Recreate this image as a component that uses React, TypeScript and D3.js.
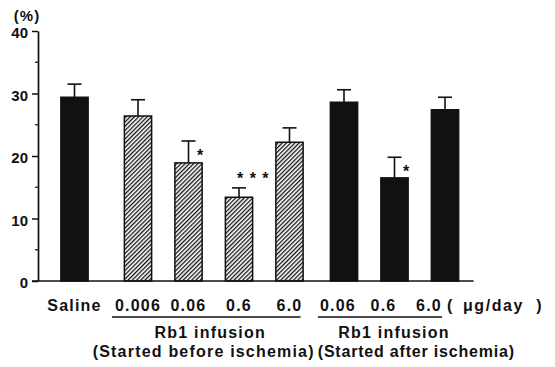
import React, { useEffect, useRef } from "react";
import * as d3 from "d3";

// values (% , mean and error)
const doses = ["Saline", "0.006", "0.06", "0.6", "6.0", "0.06", "0.6", "6.0"];
const groups = [0, 1, 1, 1, 1, 2, 2, 2];
const means = [29.4, 26.4, 18.9, 13.4, 22.2, 28.6, 16.5, 27.4];
const sems = [2.1, 2.6, 3.5, 1.5, 2.3, 2.0, 3.3, 2.0];
const marks = ["", "", "*", "***", "", "", "*", ""];
const yTicks = [0, 10, 20, 30, 40];
const yMinor = [5, 15, 25, 35];
const groupTitles = ["Rb1 infusion", "Rb1 infusion"];
const groupNotes = ["(Started before ischemia)", "(Started after ischemia)"];
const unitParts = ["(", "\u03bcg/day", ")"];

const W = 555;
const H = 367;
const FONT = "'Liberation Sans', Arial, sans-serif";
const groupShift = [0, 13, 17];

const drawChart = (node: SVGSVGElement) => {
  const svg = d3.select(node);
  svg.selectAll("*").remove();

  const y = d3.scaleLinear().domain([0, 40]).range([281, 31]);
  const x = d3.scaleBand<number>()
    .domain(d3.range(doses.length))
    .range([49.25, 453.25])
    .paddingInner(0.46)
    .paddingOuter(0.23);
  const bw = x.bandwidth();
  const left = (i: number) => (x(i) as number) + groupShift[groups[i]];
  const cx = (i: number) => left(i) + bw / 2;
  const axisX = 38;

  const defs = svg.append("defs");
  const pat = defs.append("pattern")
    .attr("id", "hatch")
    .attr("patternUnits", "userSpaceOnUse")
    .attr("width", 3)
    .attr("height", 3)
    .attr("patternTransform", "rotate(45)");
  pat.append("rect").attr("width", 3).attr("height", 3).attr("fill", "#fff");
  pat.append("line")
    .attr("x1", 0.6).attr("x2", 0.6).attr("y1", 0).attr("y2", 3)
    .attr("stroke", "#111").attr("stroke-width", 1.4);

  // y axis
  const yAxis = svg.append("g")
    .attr("transform", `translate(${axisX},0)`)
    .call(d3.axisLeft(y).tickValues(yTicks).tickSize(6).tickSizeOuter(0).tickPadding(4));
  yAxis.select(".domain").attr("stroke", "#111").attr("stroke-width", 1.7);
  yAxis.selectAll(".tick line").attr("stroke", "#111").attr("stroke-width", 1.5);
  yAxis.selectAll(".tick text")
    .attr("font-family", FONT)
    .attr("font-size", 15)
    .attr("font-weight", "bold")
    .attr("fill", "#111")
    .attr("dy", "0.45em");

  svg.append("g")
    .selectAll("line")
    .data(yMinor)
    .join("line")
      .attr("x1", axisX - 3)
      .attr("x2", axisX)
      .attr("y1", d => y(d))
      .attr("y2", d => y(d))
      .attr("stroke", "#111")
      .attr("stroke-width", 1.2);

  svg.append("text")
    .attr("x", 27)
    .attr("y", 21)
    .attr("text-anchor", "middle")
    .attr("font-family", FONT)
    .attr("font-size", 15)
    .attr("font-weight", "bold")
    .attr("letter-spacing", 1)
    .attr("fill", "#111")
    .text("(%)");

  // bars
  const idx = d3.range(doses.length);
  svg.append("g")
    .selectAll("rect")
    .data(idx)
    .join("rect")
      .attr("x", i => left(i))
      .attr("y", i => y(means[i]))
      .attr("width", bw)
      .attr("height", i => y(0) - y(means[i]))
      .attr("fill", i => (groups[i] === 1 ? "url(#hatch)" : "#111"))
      .attr("stroke", "#111")
      .attr("stroke-width", 1.5);

  // error bars
  const err = svg.append("g").attr("stroke", "#111").attr("stroke-width", 1.6);
  err.selectAll("line.stem")
    .data(idx)
    .join("line")
      .attr("class", "stem")
      .attr("x1", i => cx(i))
      .attr("x2", i => cx(i))
      .attr("y1", i => y(means[i]))
      .attr("y2", i => y(means[i] + sems[i]));
  err.selectAll("line.cap")
    .data(idx)
    .join("line")
      .attr("class", "cap")
      .attr("x1", i => cx(i) - 7)
      .attr("x2", i => cx(i) + 7)
      .attr("y1", i => y(means[i] + sems[i]))
      .attr("y2", i => y(means[i] + sems[i]));

  // significance marks
  svg.append("g")
    .selectAll("text")
    .data(idx.filter(i => marks[i]))
    .join("text")
      .attr("x", i => (marks[i].length > 1 ? cx(i) - 2 : cx(i) + 12))
      .attr("y", i => (marks[i].length > 1
        ? y(means[i] + sems[i]) - 4
        : y(means[i] + sems[i] / 2) + 9))
      .attr("text-anchor", i => (marks[i].length > 1 ? "start" : "middle"))
      .attr("font-family", FONT)
      .attr("font-size", 16)
      .attr("font-weight", "bold")
      .attr("letter-spacing", 1)
      .attr("fill", "#111")
      .text(i => marks[i].split("").join(" "));

  // baseline
  const last = doses.length - 1;
  svg.append("line")
    .attr("x1", axisX - 6)
    .attr("x2", left(last) + bw + 15)
    .attr("y1", y(0))
    .attr("y2", y(0))
    .attr("stroke", "#111")
    .attr("stroke-width", 1.7);

  // dose labels
  const labelY = 311;
  const lbl = svg.append("g")
    .attr("font-family", FONT)
    .attr("font-size", 16)
    .attr("font-weight", "bold")
    .attr("letter-spacing", 1.2)
    .attr("fill", "#111");
  const posInGroup = (i: number) => idx.filter(j => groups[j] === groups[i] && j < i).length;
  lbl.selectAll("text")
    .data(idx)
    .join("text")
      .attr("x", i => cx(i) + (groups[i] === 2 ? -6 - 5 * posInGroup(i) : 0))
      .attr("y", labelY)
      .attr("text-anchor", "middle")
      .text(i => doses[i]);
  const unit = lbl.append("text")
    .attr("x", cx(last) + 2)
    .attr("y", labelY)
    .attr("letter-spacing", 1.6);
  unit.selectAll("tspan")
    .data(unitParts)
    .join("tspan")
      .attr("dx", (d, k) => (k === 0 ? 0 : k === 1 ? 9 : 12))
      .text(d => d);

  // group underlines and titles
  const gIdx = [1, 2];
  const spans = gIdx.map(g => {
    const members = idx.filter(i => groups[i] === g);
    return [cx(members[0]) - 26, cx(members[members.length - 1]) + (g === 1 ? 11 : -3)];
  });
  svg.append("g")
    .selectAll("line")
    .data(spans)
    .join("line")
      .attr("x1", d => d[0])
      .attr("x2", d => d[1])
      .attr("y1", 317)
      .attr("y2", 317)
      .attr("stroke", "#111")
      .attr("stroke-width", 1.3);

  const gap = (left(4) + bw + left(5)) / 2;
  lbl.selectAll("text.title")
    .data(groupTitles)
    .join("text")
      .attr("class", "title")
      .attr("x", (d, k) => (k === 0 ? (spans[0][0] + spans[0][1]) / 2 + 4 : (spans[1][0] + spans[1][1]) / 2 + 14))
      .attr("y", 338)
      .attr("text-anchor", "middle")
      .text(d => d);
  lbl.selectAll("text.note")
    .data(groupNotes)
    .join("text")
      .attr("class", "note")
      .attr("x", (d, k) => (k === 0 ? gap - 2 : gap + 1))
      .attr("y", 357)
      .attr("text-anchor", (d, k) => (k === 0 ? "end" : "start"))
      .attr("letter-spacing", (d, k) => (k === 0 ? 1.2 : 0.8))
      .text(d => d);
};

const App = () => {
  const ref = useRef<SVGSVGElement>(null);
  useEffect(() => {
    if (ref.current) drawChart(ref.current);
  }, []);
  return (
    <svg
      ref={ref}
      width={W}
      height={H}
      style={{ position: "absolute", left: 0, top: 0, background: "#fff" }}
    />
  );
};

export default App;
